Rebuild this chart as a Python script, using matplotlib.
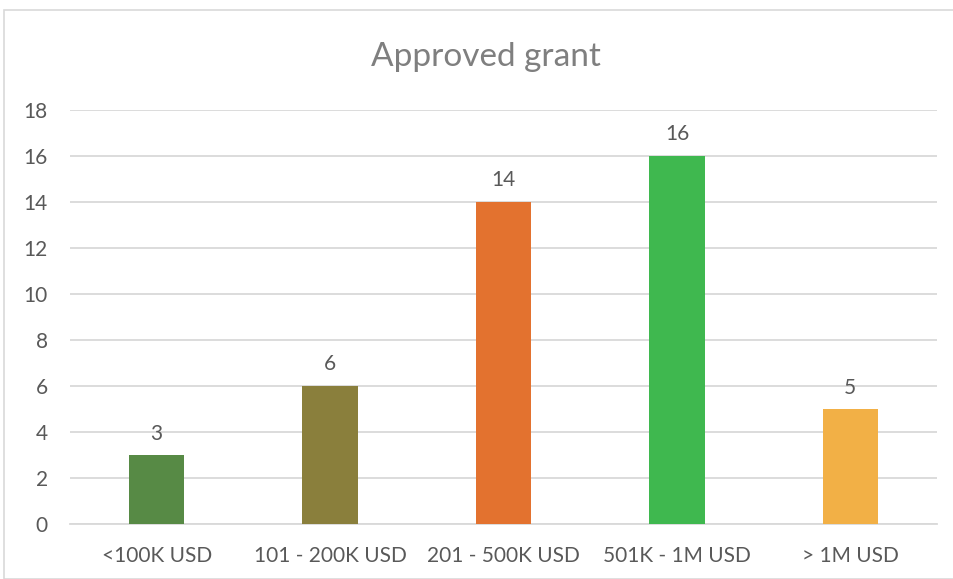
import matplotlib
matplotlib.use("Agg")
import matplotlib.pyplot as plt
from matplotlib.patches import Rectangle

categories = ["<100K USD", "101 - 200K USD", "201 - 500K USD", "501K - 1M USD", "> 1M USD"]
values = [3, 6, 14, 16, 5]
colors = ["#578A45", "#8A7F3C", "#E3722F", "#3FB84F", "#F2B046"]
yticks = [0, 2, 4, 6, 8, 10, 12, 14, 16, 18]

plt.rcParams['font.family'] = ['Lato', 'DejaVu Sans']

fig = plt.figure(figsize=(9.54, 5.79), dpi=100)
fig.patches.append(Rectangle((4/954, 0), 1, 1 - 10/579, transform=fig.transFigure,
                             fill=False, edgecolor="#D9D9D9", linewidth=1.2))
ax = fig.add_axes([70/954, 1 - 524/579, (937-70)/954, (524-110)/579])

x = list(range(len(categories)))
ax.bar(x, values, width=0.32, color=colors, zorder=3)
for xi, v in zip(x, values):
    ax.text(xi, v + 0.5, str(v), ha="center", va="bottom", fontsize=15, color="#595959")

ax.set_xlim(-0.5, len(categories) - 0.5)
ax.set_ylim(0, 18)
ax.set_yticks(yticks)
ax.set_xticks(x)
ax.set_xticklabels(categories)
ax.yaxis.grid(True, color="#D9D9D9", linewidth=1.3, zorder=0)
ax.tick_params(axis="both", length=0, labelsize=15, labelcolor="#595959")
ax.tick_params(axis="y", pad=16)
ax.tick_params(axis="x", pad=15.5)
for s in ["top", "right", "left"]:
    ax.spines[s].set_visible(False)
ax.spines["bottom"].set_color("#D9D9D9")
ax.spines["bottom"].set_linewidth(1.3)

fig.text(486/954, 1 - 57/579, "Approved grant", ha="center", va="center", fontsize=24, color="#7F7F7F")

fig.savefig("out.png", dpi=100)
